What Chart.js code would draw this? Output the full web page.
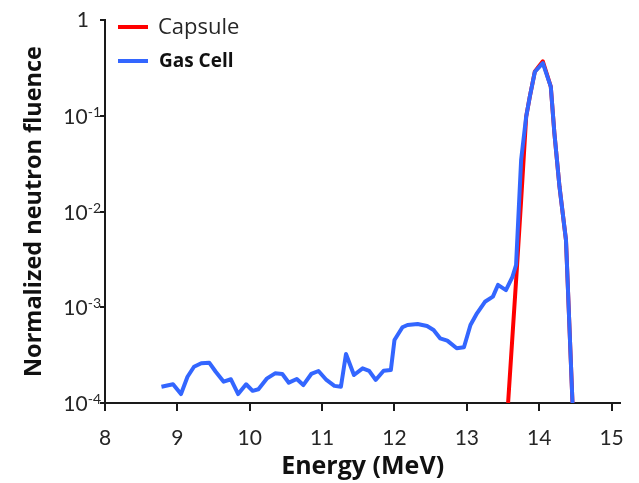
<!DOCTYPE html>
<html>
<head>
<meta charset="utf-8">
<script src="https://cdn.jsdelivr.net/npm/chart.js@4/dist/chart.umd.min.js"></script>
<style>
  html, body { margin: 0; padding: 0; background: #fff; }
</style>
</head>
<body>
<canvas id="spectrum" width="639" height="483"></canvas>
<script>
// neutron spectra, energy in MeV, fluence normalized
const capsuleEnergy = [13.57, 13.69, 13.75, 13.82, 13.87, 13.94, 14.05, 14.16, 14.21, 14.28, 14.37, 14.46];
const capsuleFluence = [1.0e-4, 2.45e-3, 1.3e-2, 0.098, 0.158, 0.29, 0.37, 0.201, 0.0656, 0.0182, 5.0e-3, 1.0e-4];

const gasCellEnergy = [8.78, 8.94, 9.05, 9.14, 9.23, 9.33, 9.44, 9.53, 9.64, 9.74,
  9.84, 9.95, 10.04, 10.12, 10.24, 10.35, 10.45, 10.54, 10.65, 10.74,
  10.85, 10.95, 11.06, 11.17, 11.26, 11.33, 11.44, 11.56, 11.65, 11.74,
  11.85, 11.95, 12.00, 12.11, 12.18, 12.32, 12.45, 12.54, 12.63, 12.73,
  12.86, 12.96, 13.05, 13.14, 13.25, 13.36, 13.43, 13.54, 13.63, 13.68,
  13.75, 13.82, 13.87, 13.94, 14.05, 14.16, 14.21, 14.28, 14.37, 14.46];
const gasCellFluence = [1.48e-4, 1.57e-4, 1.24e-4, 1.88e-4, 2.39e-4, 2.60e-4, 2.64e-4, 2.12e-4, 1.67e-4, 1.77e-4,
  1.24e-4, 1.57e-4, 1.34e-4, 1.39e-4, 1.81e-4, 2.04e-4, 2.01e-4, 1.63e-4, 1.78e-4, 1.54e-4,
  2.01e-4, 2.16e-4, 1.74e-4, 1.51e-4, 1.48e-4, 3.25e-4, 1.96e-4, 2.30e-4, 2.17e-4, 1.74e-4,
  2.17e-4, 2.21e-4, 4.55e-4, 6.18e-4, 6.53e-4, 6.68e-4, 6.37e-4, 5.79e-4, 4.74e-4, 4.48e-4,
  3.73e-4, 3.82e-4, 6.53e-4, 8.65e-4, 1.14e-3, 1.29e-3, 1.71e-3, 1.51e-3, 2.08e-3, 2.76e-3,
  3.45e-2, 0.098, 0.158, 0.288, 0.355, 0.201, 0.0656, 0.0182, 5.0e-3, 1.0e-4];

const energyTicks = [8, 9, 10, 11, 12, 13, 14, 15];
const fluenceTicks = [1e-4, 1e-3, 1e-2, 1e-1, 1];

const seriesNames = ["Capsule", "Gas Cell"];
const seriesColors = ["#ff0000", "#3366ff"];

const AXIS = "#1a1a1a";
const TEXT = "#262626";

function toPoints(xs, ys) {
  return xs.map((x, i) => ({ x: x, y: ys[i] }));
}

// y labels as 10 with a raised exponent, and the two-style legend
const labelsPlugin = {
  id: "labels",
  afterDraw(chart) {
    const ctx = chart.ctx;
    const y = chart.scales.y;
    ctx.save();
    ctx.fillStyle = TEXT;
    ctx.textBaseline = "alphabetic";
    fluenceTicks.forEach(v => {
      const py = y.getPixelForValue(v);
      const exp = Math.round(Math.log10(v));
      if (exp === 0) {
        ctx.font = "21px Lato";
        ctx.textAlign = "right";
        ctx.fillText("1", 89, py + 7);
        return;
      }
      ctx.font = "14px Lato";
      ctx.textAlign = "right";
      const sup = "-" + Math.abs(exp);
      ctx.fillText(sup, 101, py + 1);
      const w = ctx.measureText(sup).width;
      ctx.font = "21px Lato";
      ctx.fillText("10", 101 - w, py + 8);
    });

    // legend
    ctx.lineCap = "butt";
    ctx.lineWidth = 4;
    const rows = [
      { y: 27, font: "22px 'Open Sans'", color: TEXT, tx: 158 },
      { y: 61, font: "bold 19px 'Open Sans'", color: "#111", tx: 159 }
    ];
    rows.forEach((r, i) => {
      ctx.strokeStyle = seriesColors[i];
      ctx.beginPath();
      ctx.moveTo(118, r.y);
      ctx.lineTo(148, r.y);
      ctx.stroke();
      ctx.font = r.font;
      ctx.fillStyle = r.color;
      ctx.textAlign = "left";
      ctx.textBaseline = "middle";
      ctx.fillText(seriesNames[i], r.tx, r.y + 1);
    });
    ctx.restore();
  }
};

new Chart(document.getElementById("spectrum").getContext("2d"), {
  type: "line",
  data: {
    datasets: [
      {
        label: seriesNames[0],
        data: toPoints(capsuleEnergy, capsuleFluence),
        borderColor: seriesColors[0],
        borderWidth: 4,
        pointRadius: 0,
        tension: 0,
        borderJoinStyle: "round",
        order: 1
      },
      {
        label: seriesNames[1],
        data: toPoints(gasCellEnergy, gasCellFluence),
        borderColor: seriesColors[1],
        borderWidth: 4,
        pointRadius: 0,
        tension: 0,
        borderJoinStyle: "round",
        order: 0
      }
    ]
  },
  options: {
    responsive: false,
    animation: false,
    layout: { padding: { top: 20, right: 14, left: 0, bottom: 0 } },
    plugins: {
      legend: { display: false },
      tooltip: { enabled: false }
    },
    scales: {
      x: {
        type: "linear",
        min: 8,
        max: 15.12,
        afterBuildTicks: s => { s.ticks = energyTicks.map(v => ({ value: v })); },
        afterFit: s => { s.height = 80; },
        grid: { drawOnChartArea: false, color: AXIS, lineWidth: 2, tickLength: 8 },
        border: { color: AXIS, width: 2 },
        ticks: {
          color: TEXT,
          font: { family: "Lato", size: 21 },
          padding: 15,
          maxRotation: 0
        },
        title: {
          display: true,
          text: "Energy (MeV)",
          color: "#111",
          font: { family: "Open Sans", size: 25, weight: "bold" },
          padding: { top: 0, bottom: 1 }
        }
      },
      y: {
        type: "logarithmic",
        min: 1e-4,
        max: 1,
        afterBuildTicks: s => { s.ticks = fluenceTicks.map(v => ({ value: v })); },
        afterFit: s => { s.width = 105; },
        grid: { drawOnChartArea: false, color: AXIS, lineWidth: 2, tickLength: 5 },
        border: { color: AXIS, width: 2 },
        ticks: { callback: () => "" },
        title: {
          display: true,
          text: "Normalized neutron fluence",
          color: "#111",
          font: { family: "Open Sans", size: 23.5, weight: "bold" },
          padding: { top: 20, bottom: 0 }
        }
      }
    }
  },
  plugins: [labelsPlugin]
});
</script>
</body>
</html>
